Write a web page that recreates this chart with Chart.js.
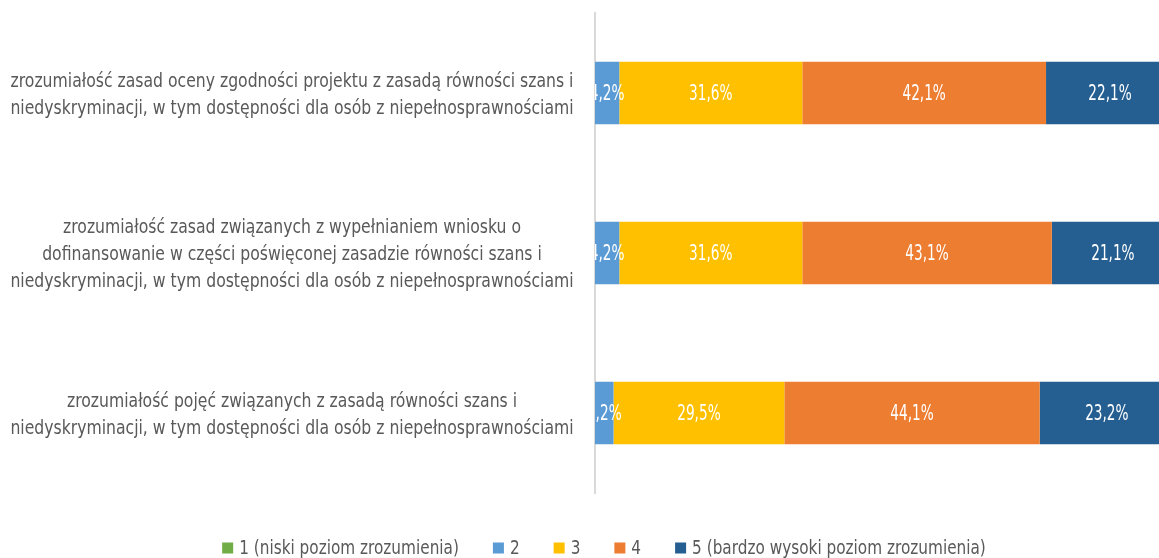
<!DOCTYPE html>
<html>
<head>
<meta charset="utf-8">
<script src="https://cdn.jsdelivr.net/npm/chart.js@4"></script>
<style>
  html,body{margin:0;padding:0;background:#fff;overflow:hidden;}
  #wrap{width:1174px;height:558px;position:relative;}
</style>
</head>
<body>
<div id="wrap"><canvas id="chart"></canvas></div>
<script>
const categories = [
  ['zrozumiałość zasad oceny zgodności projektu z zasadą równości szans i',
   'niedyskryminacji, w tym dostępności dla osób z niepełnosprawnościami'],
  ['zrozumiałość zasad związanych z wypełnianiem wniosku o',
   'dofinansowanie w części poświęconej zasadzie równości szans i',
   'niedyskryminacji, w tym dostępności dla osób z niepełnosprawnościami'],
  ['zrozumiałość pojęć związanych z zasadą równości szans i',
   'niedyskryminacji, w tym dostępności dla osób z niepełnosprawnościami']
];
const seriesNames = ['1 (niski poziom zrozumienia)', '2', '3', '4', '5 (bardzo wysoki poziom zrozumienia)'];
const level1 = [0, 0, 0];
const level2 = [4.2, 4.2, 3.2];
const level3 = [31.6, 31.6, 29.5];
const level4 = [42.1, 43.1, 44.1];
const level5 = [22.1, 21.1, 23.2];
const colors = ['#70AD47', '#5B9BD5', '#FFC000', '#ED7D31', '#255E91'];

const FONT = '"DejaVu Sans Condensed", "DejaVu Sans", sans-serif';

// the original uses a narrow face, so squeeze the text horizontally
function narrowText(ctx, txt, x, y, align, sq){
  ctx.save();
  ctx.translate(x, y);
  ctx.scale(sq, 1);
  ctx.textAlign = align;
  ctx.fillText(txt, 0, 0);
  ctx.restore();
}

const narrowLabels = {
  id: 'narrowLabels',
  afterDraw(chart){
    const ctx = chart.ctx, a = chart.chartArea;
    ctx.save();
    ctx.textBaseline = 'middle';

    // category labels
    const yScale = chart.scales.y;
    ctx.font = '20px ' + FONT;
    ctx.fillStyle = '#595959';
    chart.data.labels.forEach((lines, j) => {
      const yc = yScale.getPixelForTick(j) + 2;
      const lh = 27;
      lines.forEach((ln, k) => {
        narrowText(ctx, ln, 292, yc + (k - (lines.length - 1) / 2) * lh, 'center', 0.87);
      });
    });

    // bar values
    ctx.save();
    ctx.beginPath();
    ctx.rect(a.left, a.top, a.right - a.left, a.bottom - a.top);
    ctx.clip();
    ctx.font = '22px ' + FONT;
    ctx.fillStyle = '#ffffff';
    chart.data.datasets.forEach((ds, i) => {
      chart.getDatasetMeta(i).data.forEach((bar, j) => {
        const v = ds.data[j];
        if (!v) return;
        narrowText(ctx, v.toFixed(1).replace('.', ',') + '%', (bar.x + bar.base) / 2, bar.y + 1, 'center', 0.69);
      });
    });
    ctx.restore();

    // legend
    ctx.font = '20px ' + FONT;
    const sq = 0.85, box = 11, gapText = 6, gapItem = 34;
    const items = chart.data.datasets.map(ds => ({
      text: ds.label, color: ds.backgroundColor,
      w: box + gapText + ctx.measureText(ds.label).width * sq
    }));
    const total = items.reduce((s, it) => s + it.w, 0) + gapItem * (items.length - 1);
    let x = chart.width / 2 + 17 - total / 2;
    const y = 548;
    items.forEach(it => {
      ctx.fillStyle = it.color;
      ctx.fillRect(x, y - box / 2, box, box);
      ctx.fillStyle = '#595959';
      narrowText(ctx, it.text, x + box + gapText, y + 1, 'left', sq);
      x += it.w + gapItem;
    });
    ctx.restore();
  }
};

const allSeries = [level1, level2, level3, level4, level5];
new Chart(document.getElementById('chart'), {
  type: 'bar',
  data: {
    labels: categories,
    datasets: allSeries.map((d, i) => ({
      label: seriesNames[i], data: d, backgroundColor: colors[i],
      barPercentage: 0.39, categoryPercentage: 1
    }))
  },
  options: {
    indexAxis: 'y',
    responsive: true,
    maintainAspectRatio: false,
    animation: false,
    layout: { padding: { top: 13, bottom: 65, left: 0, right: 0 } },
    scales: {
      x: { stacked: true, min: 0, max: 100, display: false },
      y: {
        stacked: true,
        grid: { display: false },
        border: { display: true, color: '#D9D9D9', width: 2 },
        ticks: { display: false },
        afterFit(scale){ scale.width = 595; }
      }
    },
    plugins: {
      legend: { display: false },
      tooltip: { enabled: false }
    }
  },
  plugins: [narrowLabels]
});
</script>
</body>
</html>
